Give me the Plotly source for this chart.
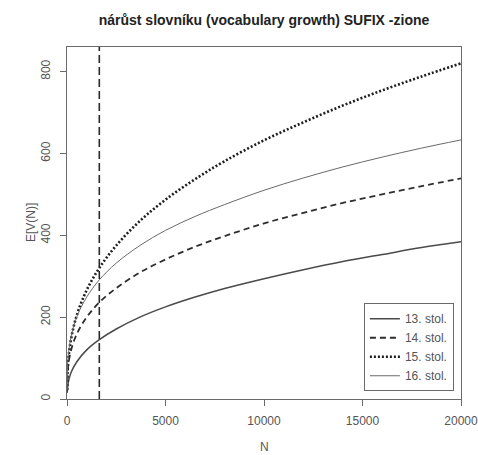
import plotly.graph_objects as go

# Data
N = [10, 50, 200, 500, 1000, 1640, 2500, 3700, 5000, 6500, 8000, 10000, 12000, 14000, 16000, 18000, 20000]
stol13 = [15, 37, 64, 91, 120, 145, 171, 200, 225, 249, 270, 294, 316, 336, 353, 370, 384]
stol14 = [20, 75, 118, 159, 200, 236, 271, 309, 341, 372, 398, 429, 455, 479, 500, 520, 539]
stol15 = [22, 86, 145, 205, 266, 320, 375, 435, 487, 537, 581, 632, 676, 717, 754, 788, 820]
stol16 = [22, 98, 151, 201, 249, 291, 332, 375, 412, 446, 475, 510, 540, 567, 591, 613, 633]
VLINE_N = 1640
series_names = ["13. stol.", "14. stol.", "15. stol.", "16. stol."]
x_ticks = [0, 5000, 10000, 15000, 20000]
y_ticks = [0, 200, 400, 600, 800]

FONT = "Liberation Sans, Arial, sans-serif"
GRAY_TXT = "#555555"

styles = [
    dict(color="#4a4a4a", width=1.5, dash="solid"),
    dict(color="#2e2e2e", width=1.8, dash="6px,4px"),
    dict(color="#1e1e1e", width=2.6, dash="2px,2px"),
    dict(color="#6a6a6a", width=1.0, dash="solid"),
]

fig = go.Figure()
for name, ys, st in zip(series_names, [stol13, stol14, stol15, stol16], styles):
    fig.add_trace(go.Scatter(x=N, y=ys, mode="lines", name=name,
                             line=dict(shape="spline", smoothing=1.0, **st)))

fig.add_trace(go.Scatter(x=[VLINE_N, VLINE_N], y=[0, 860], mode="lines",
                         showlegend=False,
                         line=dict(color="#2a2a2a", width=1.6, dash="8px,4px")))

axis_common = dict(showline=True, linecolor="#6a6a6a", linewidth=1, mirror=True,
                   ticks="outside", ticklen=6, tickcolor="#6a6a6a",
                   showgrid=False, zeroline=False, automargin=False,
                   ticklabeloverflow="allow",
                   tickfont=dict(family=FONT, size=12, color=GRAY_TXT))

fig.update_layout(
    width=478, height=455,
    margin=dict(l=67, r=17, t=47, b=56),
    paper_bgcolor="white", plot_bgcolor="white",
    title=dict(text="<b>nárůst slovníku (vocabulary growth) SUFIX -zione</b>",
               x=264 / 478, xanchor="center", xref="container",
               y=1 - 20 / 455, yanchor="middle", yref="container",
               font=dict(family=FONT, size=14, color="#222222")),
    xaxis=dict(range=[0, 20000], tickvals=x_ticks, ticktext=[str(v) for v in x_ticks],
               ticklabelstandoff=5, **axis_common),
    yaxis=dict(range=[0, 860], tickvals=y_ticks, ticktext=[str(v) for v in y_ticks],
               tickangle=-90, ticklabelstandoff=5, **axis_common),
    legend=dict(x=0.982, y=0.022, xanchor="right", yanchor="bottom",
                bordercolor="#6a6a6a", borderwidth=1, bgcolor="white",
                font=dict(family=FONT, size=12, color=GRAY_TXT),
                tracegroupgap=0, itemwidth=30),
    showlegend=True,
    annotations=[
        dict(text="N", xref="paper", yref="paper", x=0.5, y=(399.3 - 447) / 352.6,
             showarrow=False, xanchor="center", yanchor="middle",
             font=dict(family=FONT, size=12, color=GRAY_TXT)),
        dict(text="E[V(N)]", xref="paper", yref="paper", x=(31 - 67) / 394, y=0.5,
             showarrow=False, xanchor="center", yanchor="middle", textangle=-90,
             font=dict(family=FONT, size=12, color=GRAY_TXT)),
    ],
)

fig.write_html("out.html", config={"displayModeBar": False},
               post_script="document.body.style.margin='0';")
